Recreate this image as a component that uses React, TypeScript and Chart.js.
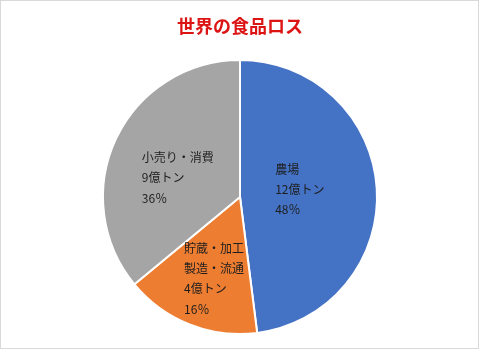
import React, { useEffect, useRef } from "react";
import { Chart, registerables } from "chart.js";

Chart.register(...registerables);

const title = "世界の食品ロス";
const categories: string[][] = [["農場"], ["貯蔵・加工", "製造・流通"], ["小売り・消費"]];
const values: number[] = [12, 4, 9];
const unit = "億トン";
const percentSign = "％";
const colors: string[] = ["#4472C4", "#ED7D31", "#A5A5A5"];
// label placement style: radial fraction and angle shift (deg)
const labelRadius: number[] = [0.44, 0.625, 0.475];
const labelShift: number[] = [-3.5, -4, -8];

const FONT = '"Noto Sans CJK JP", "Noto Sans", sans-serif';

const labelPlugin = {
  id: "sliceLabels",
  afterDatasetsDraw(chart: any) {
    const ctx = chart.ctx;
    const meta = chart.getDatasetMeta(0);
    const data = chart.data.datasets[0].data as number[];
    const total = data.reduce((a, b) => a + b, 0);
    ctx.save();
    ctx.font = `12px ${FONT}`;
    ctx.fillStyle = "#1e1e1e";
    ctx.textAlign = "left";
    ctx.textBaseline = "middle";
    meta.data.forEach((arc: any, i: number) => {
      const p = arc.getProps(["x", "y", "startAngle", "endAngle", "outerRadius"], true);
      const mid = (p.startAngle + p.endAngle) / 2 + (labelShift[i] * Math.PI) / 180;
      const r = p.outerRadius * labelRadius[i];
      const cx = p.x + Math.cos(mid) * r;
      const cy = p.y + Math.sin(mid) * r;
      const pct = Math.round((data[i] / total) * 100);
      const lines = [...categories[i], `${data[i]}${unit}`, `${pct}${percentSign}`];
      const lh = 20.3;
      const maxW = Math.max(...lines.map((l) => ctx.measureText(l).width));
      const left = cx - maxW / 2;
      const top = cy - ((lines.length - 1) * lh) / 2;
      lines.forEach((l, j) => ctx.fillText(l, left, top + j * lh));
    });
    ctx.restore();
  },
};

export default function App() {
  const ref = useRef<HTMLCanvasElement>(null);
  useEffect(() => {
    document.body.style.margin = "0";
    const chart = new Chart(ref.current!, {
      type: "pie",
      data: {
        labels: categories.map((c) => c.join("")),
        datasets: [
          {
            data: values,
            backgroundColor: colors,
            borderColor: "#ffffff",
            borderWidth: 2,
          },
        ],
      },
      options: {
        animation: false,
        responsive: false,
        layout: { padding: { top: 0, bottom: 15, left: 0, right: 0 } },
        plugins: {
          legend: { display: false },
          tooltip: { enabled: false },
          title: {
            display: true,
            text: title,
            color: "#DC1414",
            font: { family: FONT, size: 18, weight: "bold", lineHeight: 1.2 },
            padding: { top: 15, bottom: 22.4 },
          },
        },
      },
      plugins: [labelPlugin],
    });
    return () => chart.destroy();
  }, []);
  return (
    <div
      style={{
        position: "relative",
        width: 480,
        height: 350,
        boxSizing: "border-box",
        background: "#fff",
      }}
    >
      <canvas ref={ref} width={480} height={350} style={{ display: "block" }} />
      <div
        style={{
          position: "absolute",
          left: 0,
          top: 0,
          width: 479,
          height: 349,
          boxSizing: "border-box",
          border: "1px solid #d9d9d9",
          pointerEvents: "none",
        }}
      />
    </div>
  );
}
